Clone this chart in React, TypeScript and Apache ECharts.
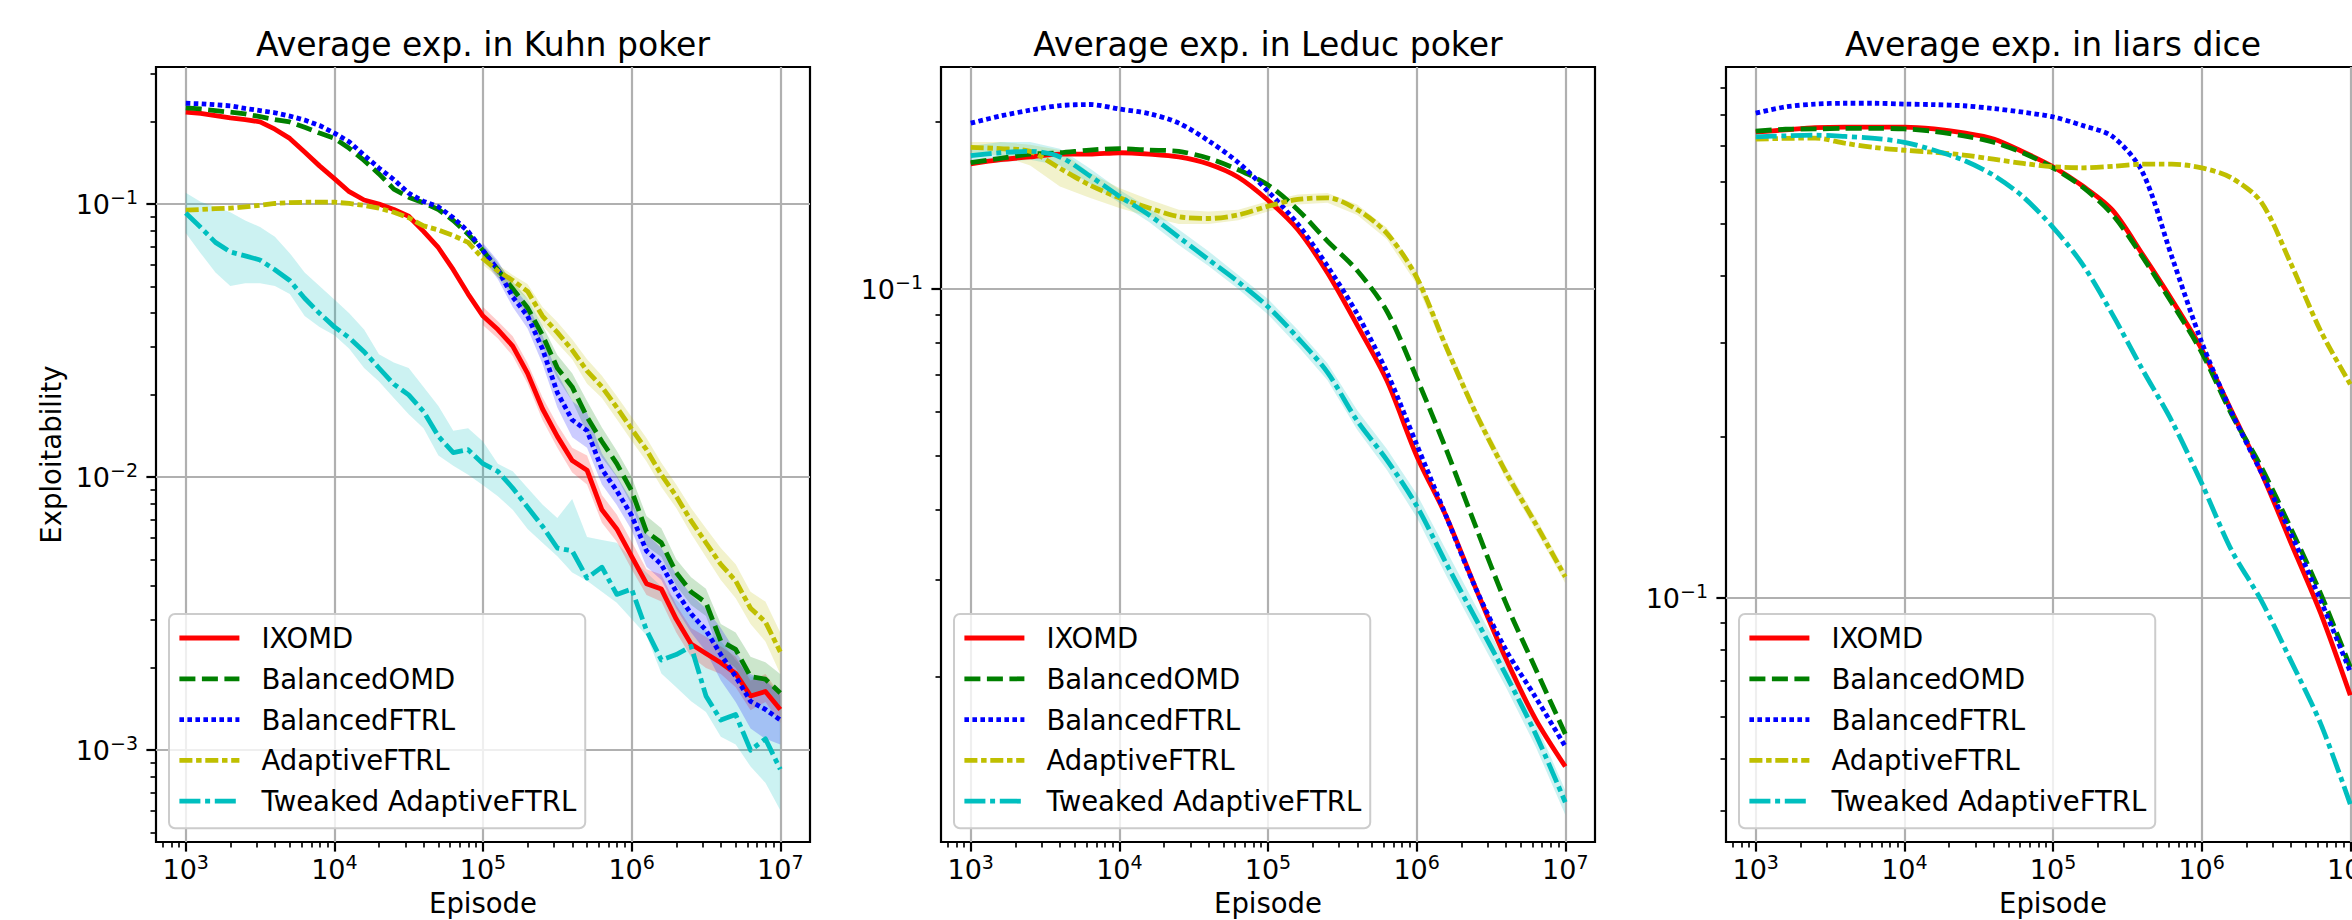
import { useEffect, useRef } from 'react';
import * as echarts from 'echarts';

// ---------------- data ----------------
const KUHN_EPISODES = [1000, 1259, 1585, 1995, 2512, 3162, 3981, 5012, 6310, 7943, 10000, 12589, 15849, 19953, 25119, 31623, 39811, 50119, 63096, 79433, 100000, 125893, 158489, 199526, 251189, 316228, 398107, 501187, 630957, 794328, 1000000, 1258925, 1584893, 1995262, 2511886, 3162278, 3981072, 5011872, 6309573, 7943282, 10000000];
const SMOOTH_EPISODES = [1000, 1585, 2512, 3981, 6310, 10000, 15849, 25119, 39811, 63096, 100000, 158489, 251189, 398107, 630957, 1000000, 1584893, 2511886, 3981072, 6309573, 10000000];

const KUHN_IXOMD = [0.217, 0.215, 0.211, 0.207, 0.204, 0.2, 0.188, 0.174, 0.155, 0.138, 0.124, 0.111, 0.1035, 0.1, 0.0955, 0.0902, 0.0794, 0.0692, 0.0575, 0.0468, 0.0389, 0.0347, 0.0302, 0.024, 0.0178, 0.0141, 0.0115, 0.0106, 0.00759, 0.00646, 0.00513, 0.00407, 0.00389, 0.00302, 0.00245, 0.00226, 0.00209, 0.00191, 0.00158, 0.00164, 0.00141];
const KUHN_BOMD = [0.225, 0.223, 0.22, 0.217, 0.214, 0.209, 0.204, 0.2, 0.191, 0.182, 0.174, 0.16, 0.1445, 0.129, 0.1135, 0.106, 0.101, 0.0955, 0.0871, 0.0776, 0.0676, 0.0575, 0.049, 0.0417, 0.0331, 0.0251, 0.0214, 0.0166, 0.0135, 0.0112, 0.00891, 0.00631, 0.00575, 0.00447, 0.0038, 0.00347, 0.00251, 0.00234, 0.00186, 0.00182, 0.00162];
const KUHN_BFTRL = [0.234, 0.233, 0.231, 0.229, 0.224, 0.22, 0.216, 0.21, 0.203, 0.194, 0.182, 0.169, 0.151, 0.1355, 0.123, 0.1096, 0.1023, 0.0977, 0.0891, 0.0794, 0.0676, 0.0575, 0.0457, 0.0389, 0.0295, 0.0204, 0.0162, 0.0148, 0.0107, 0.00891, 0.00724, 0.00537, 0.00479, 0.0038, 0.00316, 0.00275, 0.00224, 0.00186, 0.00151, 0.00141, 0.00129];
const KUHN_AFTRL = [0.095, 0.0955, 0.0962, 0.0966, 0.0977, 0.0989, 0.1005, 0.1012, 0.1016, 0.1016, 0.1016, 0.1005, 0.0989, 0.0966, 0.0933, 0.0891, 0.0832, 0.0804, 0.0767, 0.0724, 0.0631, 0.0569, 0.0525, 0.0479, 0.0389, 0.0339, 0.0292, 0.0245, 0.0214, 0.018, 0.015, 0.0126, 0.0102, 0.00851, 0.00692, 0.00575, 0.00479, 0.00417, 0.00331, 0.00295, 0.00229];
const KUHN_TAFTRL = [0.0927, 0.0822, 0.0724, 0.0668, 0.0646, 0.0624, 0.0575, 0.0525, 0.0452, 0.0398, 0.0355, 0.0324, 0.0288, 0.0251, 0.0219, 0.02, 0.0174, 0.0141, 0.0123, 0.0126, 0.0112, 0.0105, 0.00912, 0.00776, 0.00661, 0.0055, 0.00537, 0.00427, 0.00468, 0.00372, 0.00389, 0.00275, 0.00214, 0.00224, 0.0024, 0.00158, 0.00129, 0.00135, 0.001, 0.0011, 0.000851];

// shaded spread (lower / upper); Tweaked over all episodes, the others from 1e5 on
const KUHN_TAFTRL_LO = [0.0783, 0.0661, 0.0562, 0.0501, 0.0513, 0.0513, 0.0501, 0.0468, 0.0389, 0.0355, 0.0331, 0.0295, 0.0251, 0.0224, 0.0195, 0.017, 0.0151, 0.012, 0.011, 0.0102, 0.00933, 0.00851, 0.00759, 0.00646, 0.00575, 0.00513, 0.00447, 0.00417, 0.0038, 0.00347, 0.00302, 0.00263, 0.00191, 0.0017, 0.00151, 0.00138, 0.00112, 0.00105, 0.000871, 0.000759, 0.000603];
const KUHN_TAFTRL_HI = [0.11, 0.102, 0.0977, 0.0933, 0.0871, 0.0824, 0.0759, 0.0661, 0.0562, 0.0501, 0.0447, 0.0398, 0.0347, 0.0282, 0.0263, 0.0251, 0.0214, 0.0182, 0.0148, 0.0151, 0.0135, 0.0112, 0.0105, 0.00912, 0.00794, 0.00708, 0.00832, 0.00603, 0.00589, 0.00575, 0.00501, 0.00447, 0.00398, 0.00355, 0.00316, 0.00275, 0.00251, 0.00214, 0.00186, 0.00186, 0.00158];
const KUHN_IXOMD_LO = [0.036, 0.0322, 0.0278, 0.022, 0.0162, 0.0128, 0.0104, 0.0094, 0.0068, 0.0058, 0.0046, 0.0037, 0.0035, 0.0027, 0.0022, 0.002, 0.0019, 0.0017, 0.0014, 0.0015, 0.00126];
const KUHN_IXOMD_HI = [0.042, 0.0372, 0.0328, 0.0262, 0.0196, 0.0156, 0.0128, 0.012, 0.0086, 0.0073, 0.0058, 0.0046, 0.0044, 0.0034, 0.0028, 0.0026, 0.0024, 0.0022, 0.0018, 0.0019, 0.0016];
const KUHN_BOMD_LO = [0.064, 0.054, 0.046, 0.039, 0.03, 0.023, 0.019, 0.0145, 0.0118, 0.01, 0.0079, 0.0056, 0.0051, 0.004, 0.0034, 0.0031, 0.0022, 0.002, 0.0016, 0.0016, 0.0014];
const KUHN_BOMD_HI = [0.071, 0.061, 0.052, 0.045, 0.036, 0.028, 0.024, 0.019, 0.0152, 0.0125, 0.01, 0.0072, 0.0065, 0.005, 0.0043, 0.0039, 0.0029, 0.0027, 0.0022, 0.0021, 0.0019];
const KUHN_BFTRL_LO = [0.063, 0.053, 0.042, 0.035, 0.026, 0.018, 0.014, 0.0128, 0.0094, 0.0079, 0.0064, 0.0047, 0.0042, 0.0033, 0.0027, 0.0023, 0.0018, 0.0015, 0.0012, 0.0011, 0.00105];
const KUHN_BFTRL_HI = [0.072, 0.062, 0.05, 0.043, 0.033, 0.024, 0.019, 0.0172, 0.0122, 0.0101, 0.0082, 0.0062, 0.0055, 0.0044, 0.0037, 0.0033, 0.0028, 0.0023, 0.0019, 0.0018, 0.0016];
const KUHN_AFTRL_LO = [0.06, 0.054, 0.05, 0.045, 0.036, 0.031, 0.027, 0.022, 0.0195, 0.0163, 0.0136, 0.0114, 0.0092, 0.0077, 0.0062, 0.0051, 0.0042, 0.0036, 0.0029, 0.0025, 0.0019];
const KUHN_AFTRL_HI = [0.066, 0.06, 0.055, 0.051, 0.042, 0.037, 0.032, 0.027, 0.0235, 0.0198, 0.0166, 0.0139, 0.0113, 0.0094, 0.0077, 0.0065, 0.0055, 0.0048, 0.0038, 0.0035, 0.0027];

const LEDUC_IXOMD = [0.168, 0.171, 0.173, 0.175, 0.175, 0.176, 0.175, 0.173, 0.168, 0.159, 0.1445, 0.128, 0.107, 0.0861, 0.0684, 0.0501, 0.0389, 0.0288, 0.0216, 0.0168, 0.0138];
const LEDUC_BOMD = [0.169, 0.172, 0.175, 0.176, 0.178, 0.179, 0.178, 0.177, 0.172, 0.164, 0.154, 0.139, 0.122, 0.108, 0.0912, 0.0692, 0.0513, 0.0372, 0.0272, 0.0207, 0.0158];
const LEDUC_BFTRL = [0.199, 0.205, 0.21, 0.214, 0.215, 0.211, 0.207, 0.199, 0.185, 0.169, 0.15, 0.131, 0.11, 0.0902, 0.0708, 0.0525, 0.0389, 0.0288, 0.0224, 0.0184, 0.015];
const LEDUC_AFTRL = [0.18, 0.179, 0.177, 0.165, 0.154, 0.146, 0.14, 0.135, 0.134, 0.136, 0.141, 0.145, 0.146, 0.139, 0.126, 0.105, 0.0785, 0.0596, 0.0468, 0.0378, 0.0303];
const LEDUC_TAFTRL = [0.174, 0.176, 0.177, 0.173, 0.16, 0.147, 0.136, 0.124, 0.113, 0.103, 0.0929, 0.0817, 0.0708, 0.0579, 0.0492, 0.0407, 0.032, 0.0254, 0.0202, 0.0158, 0.0119];
const LEDUC_AFTRL_LO = [0.176, 0.174, 0.167, 0.153, 0.146, 0.14, 0.135, 0.131, 0.131, 0.133, 0.138, 0.142, 0.143, 0.136, 0.123, 0.102, 0.0765, 0.058, 0.0455, 0.0368, 0.0295];
const LEDUC_AFTRL_HI = [0.184, 0.184, 0.182, 0.178, 0.162, 0.152, 0.145, 0.139, 0.138, 0.139, 0.144, 0.148, 0.149, 0.142, 0.129, 0.108, 0.0805, 0.061, 0.048, 0.0388, 0.0311];
const LEDUC_TAFTRL_LO = [0.168, 0.169, 0.171, 0.167, 0.155, 0.143, 0.132, 0.12, 0.11, 0.1, 0.09, 0.079, 0.0685, 0.0558, 0.0472, 0.0388, 0.0304, 0.0241, 0.0192, 0.015, 0.0113];
const LEDUC_TAFTRL_HI = [0.181, 0.184, 0.184, 0.179, 0.165, 0.151, 0.14, 0.128, 0.117, 0.106, 0.096, 0.0845, 0.0735, 0.0605, 0.0515, 0.0428, 0.0338, 0.0268, 0.0213, 0.0166, 0.0125];

const LIARS_IXOMD = [0.743, 0.75, 0.757, 0.759, 0.759, 0.759, 0.753, 0.74, 0.721, 0.682, 0.64, 0.589, 0.531, 0.44, 0.361, 0.292, 0.224, 0.172, 0.127, 0.0938, 0.0658];
const LIARS_BOMD = [0.746, 0.752, 0.753, 0.755, 0.755, 0.753, 0.745, 0.731, 0.711, 0.679, 0.637, 0.586, 0.521, 0.435, 0.356, 0.288, 0.221, 0.176, 0.135, 0.102, 0.0743];
const LIARS_BFTRL = [0.806, 0.828, 0.838, 0.841, 0.841, 0.838, 0.836, 0.832, 0.822, 0.809, 0.793, 0.764, 0.729, 0.627, 0.434, 0.301, 0.223, 0.172, 0.132, 0.0991, 0.0728];
const LIARS_AFTRL = [0.721, 0.723, 0.724, 0.708, 0.695, 0.687, 0.681, 0.673, 0.661, 0.649, 0.64, 0.637, 0.641, 0.647, 0.647, 0.637, 0.61, 0.55, 0.422, 0.316, 0.251];
const LIARS_TAFTRL = [0.728, 0.731, 0.733, 0.729, 0.723, 0.711, 0.687, 0.658, 0.617, 0.562, 0.493, 0.42, 0.339, 0.268, 0.214, 0.164, 0.123, 0.0991, 0.0764, 0.0583, 0.0412];

const TITLES = ['Average exp. in Kuhn poker', 'Average exp. in Leduc poker', 'Average exp. in liars dice'];
const SERIES_NAMES = ['IXOMD', 'BalancedOMD', 'BalancedFTRL', 'AdaptiveFTRL', 'Tweaked AdaptiveFTRL'];
const X_MAJOR = [1e3, 1e4, 1e5, 1e6, 1e7];
const Y_MAJOR = [1e-3, 1e-2, 1e-1, 1];
const X_LABEL = 'Episode';
const Y_LABEL = 'Exploitability';

// ---------------- styles / layout ----------------
const FONT = 'DejaVu Sans';
const COLORS = ['#ff0000', '#008000', '#0000ff', '#bfbf00', '#00bfbf'];
const FILLS = ['rgba(255,0,0,0.2)', 'rgba(0,128,0,0.2)', 'rgba(0,0,255,0.2)', 'rgba(191,191,0,0.2)', 'rgba(0,191,191,0.2)'];
const DASHES: any[] = ['solid', [16, 6.5], [4.6, 3.4], [13, 3.7, 5.5, 3.7], [21, 4.7, 5, 4.7]];
const LINE_W = 4.8;
const GRID_LEFTS = [156, 941, 1726];
const GRID_TOP = 67;
const GRID_W = 654;
const GRID_H = 775;
const X_RANGE = [630.96, 15848932];

const minorTicks = (lo: number, hi: number) => {
  const out: number[] = [];
  for (let e = lo; e <= hi; e++) for (let k = 2; k <= 9; k++) out.push(k * Math.pow(10, e));
  return out;
};

const PANELS: any[] = [
  {
    episodes: KUHN_EPISODES,
    values: [KUHN_IXOMD, KUHN_BOMD, KUHN_BFTRL, KUHN_AFTRL, KUHN_TAFTRL],
    yRange: [4.61e-4, 0.3177],
    yMinor: minorTicks(-4, -1),
    smooth: false,
    bands: [
      { s: 4, from: 0, lo: KUHN_TAFTRL_LO, hi: KUHN_TAFTRL_HI },
      { s: 0, from: 20, lo: KUHN_IXOMD_LO, hi: KUHN_IXOMD_HI },
      { s: 1, from: 20, lo: KUHN_BOMD_LO, hi: KUHN_BOMD_HI },
      { s: 2, from: 20, lo: KUHN_BFTRL_LO, hi: KUHN_BFTRL_HI },
      { s: 3, from: 20, lo: KUHN_AFTRL_LO, hi: KUHN_AFTRL_HI },
    ],
  },
  {
    episodes: SMOOTH_EPISODES,
    values: [LEDUC_IXOMD, LEDUC_BOMD, LEDUC_BFTRL, LEDUC_AFTRL, LEDUC_TAFTRL],
    yRange: [0.01009, 0.2512],
    yMinor: minorTicks(-3, -1),
    smooth: 0.3,
    bands: [
      { s: 3, from: 0, lo: LEDUC_AFTRL_LO, hi: LEDUC_AFTRL_HI },
      { s: 4, from: 0, lo: LEDUC_TAFTRL_LO, hi: LEDUC_TAFTRL_HI },
    ],
  },
  {
    episodes: SMOOTH_EPISODES,
    values: [LIARS_IXOMD, LIARS_BOMD, LIARS_BFTRL, LIARS_AFTRL, LIARS_TAFTRL],
    yRange: [0.035, 0.983],
    yMinor: minorTicks(-2, -1),
    smooth: 0.3,
    bands: [],
  },
];

const sup = (v: number) => {
  const e = Math.round(Math.log10(v));
  return `{b|10}{s|${e < 0 ? '\u2212' + -e : e}}`;
};
const RICH = {
  b: { fontSize: 27, fontFamily: FONT, color: '#000', lineHeight: 34 },
  s: { fontSize: 19, fontFamily: FONT, color: '#000', lineHeight: 20, verticalAlign: 'top' },
};
const NAME_STYLE = { fontFamily: FONT, fontSize: 27.5, color: '#000', lineHeight: 32 };

function buildOption() {
  const xAxis: any[] = [];
  const yAxis: any[] = [];
  const series: any[] = [];
  const X_MINOR = minorTicks(2, 7);

  PANELS.forEach((p, g) => {
    const xBase = {
      type: 'log', logBase: 10, gridIndex: g, min: X_RANGE[0], max: X_RANGE[1], position: 'bottom',
      axisLine: { show: false, onZero: false }, splitLine: { show: false }, splitArea: { show: false },
    };
    xAxis.push({
      ...xBase,
      axisTick: { show: true, customValues: X_MAJOR, length: 9.6, lineStyle: { color: '#000', width: 2.2 } },
      axisLabel: { show: true, customValues: X_MAJOR, formatter: sup, rich: RICH, margin: 10, fontSize: 27, fontFamily: FONT, color: '#000' },
      name: X_LABEL, nameLocation: 'middle', nameGap: 45, nameTextStyle: NAME_STYLE,
    });
    xAxis.push({
      ...xBase,
      axisTick: { show: true, customValues: X_MINOR, length: 5.5, lineStyle: { color: '#000', width: 1.65 } },
      axisLabel: { show: false },
    });
    xAxis.push({
      ...xBase,
      axisTick: { show: true, inside: true, customValues: X_MAJOR, length: GRID_H, lineStyle: { color: '#b0b0b0', width: 2.2 } },
      axisLabel: { show: false },
    });

    const yBase = {
      type: 'log', logBase: 10, gridIndex: g, min: p.yRange[0], max: p.yRange[1], position: 'left',
      axisLine: { show: false, onZero: false }, splitLine: { show: false }, splitArea: { show: false },
    };
    yAxis.push({
      ...yBase,
      axisTick: { show: true, customValues: Y_MAJOR, length: 9.6, lineStyle: { color: '#000', width: 2.2 } },
      axisLabel: { show: true, customValues: Y_MAJOR, formatter: sup, rich: RICH, margin: 18, fontSize: 27, fontFamily: FONT, color: '#000' },
      ...(g === 0
        ? { name: Y_LABEL, nameLocation: 'middle', nameRotate: 90, nameGap: 89, nameTextStyle: NAME_STYLE }
        : {}),
    });
    yAxis.push({
      ...yBase,
      axisTick: { show: true, customValues: p.yMinor, length: 5.5, lineStyle: { color: '#000', width: 1.65 } },
      axisLabel: { show: false },
    });
    yAxis.push({
      ...yBase,
      axisTick: { show: true, inside: true, customValues: Y_MAJOR, length: GRID_W, lineStyle: { color: '#b0b0b0', width: 2.2 } },
      axisLabel: { show: false },
    });

    // shaded spreads
    p.bands.forEach((b: any) => {
      const xs = p.episodes.slice(b.from);
      series.push({
        type: 'custom',
        xAxisIndex: g * 3,
        yAxisIndex: g * 3,
        silent: true,
        z: 1,
        clip: true,
        data: [[xs[0], b.lo[0]]],
        encode: { x: 0, y: 1 },
        renderItem: (_params: any, api: any) => {
          const pts: number[][] = [];
          for (let i = 0; i < xs.length; i++) pts.push(api.coord([xs[i], b.hi[i]]));
          for (let i = xs.length - 1; i >= 0; i--) pts.push(api.coord([xs[i], b.lo[i]]));
          return { type: 'polygon', shape: { points: pts }, style: { fill: FILLS[b.s], stroke: 'none' } };
        },
      });
    });

    // lines
    p.values.forEach((vals: number[], s: number) => {
      series.push({
        type: 'line',
        name: SERIES_NAMES[s],
        xAxisIndex: g * 3,
        yAxisIndex: g * 3,
        data: p.episodes.map((e: number, i: number) => [e, vals[i]]),
        showSymbol: false,
        symbol: 'none',
        smooth: p.smooth,
        lineStyle: { color: COLORS[s], width: LINE_W, type: DASHES[s], cap: 'butt', join: 'round' },
        itemStyle: { color: COLORS[s] },
        z: 3,
        silent: true,
        clip: true,
      });
    });
  });

  return {
    animation: false,
    backgroundColor: '#ffffff',
    textStyle: { fontFamily: FONT },
    title: TITLES.map((t, g) => ({
      text: t,
      left: GRID_LEFTS[g] + GRID_W / 2,
      top: 27.5,
      textAlign: 'center',
      padding: 0,
      textStyle: { fontFamily: FONT, fontSize: 33, fontWeight: 'normal', color: '#000', lineHeight: 33 },
    })),
    grid: GRID_LEFTS.map((left) => ({
      left, top: GRID_TOP, width: GRID_W, height: GRID_H,
      show: true, borderColor: '#000', borderWidth: 2.2, backgroundColor: 'rgba(0,0,0,0)',
      containLabel: false, outerBoundsMode: 'none',
    })),
    legend: GRID_LEFTS.map((left) => ({
      show: true,
      orient: 'vertical',
      left: left + 13,
      top: 614,
      data: SERIES_NAMES,
      selectedMode: false,
      itemWidth: 60,
      itemHeight: 14,
      itemGap: 12.8,
      padding: [10, 9, 13, 8],
      backgroundColor: 'rgba(255,255,255,0.8)',
      borderColor: '#cccccc',
      borderWidth: 2,
      borderRadius: 6,
      itemStyle: { opacity: 0, color: 'rgba(0,0,0,0)', borderWidth: 0 },
      lineStyle: { width: LINE_W },
      textStyle: { fontFamily: FONT, fontSize: 27.5, color: '#000', lineHeight: 28, padding: [0, 0, 0, 17] },
    })),
    xAxis,
    yAxis,
    series,
  };
}

export default function App() {
  const ref = useRef<HTMLDivElement>(null);
  useEffect(() => {
    if (!ref.current) return;
    const chart = echarts.init(ref.current, null, { renderer: 'svg', width: 2352, height: 920 });
    chart.setOption(buildOption() as any);
    return () => chart.dispose();
  }, []);
  return (
    <div
      ref={ref}
      style={{ position: 'absolute', left: 0, top: 0, width: 2352, height: 920, background: '#ffffff', overflow: 'hidden' }}
    />
  );
}
